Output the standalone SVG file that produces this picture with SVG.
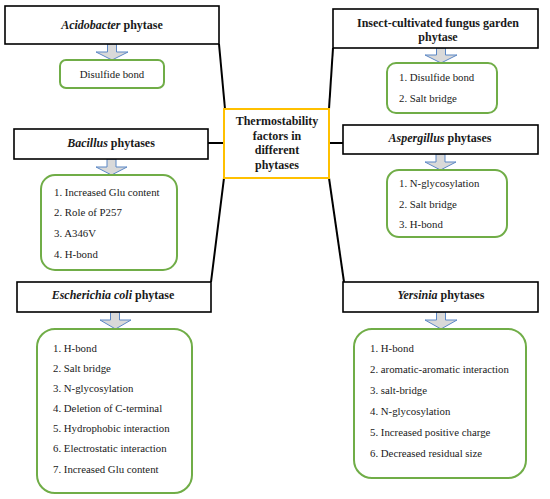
<svg xmlns="http://www.w3.org/2000/svg" width="550" height="499" viewBox="0 0 550 499">
<defs>
<style>
.hdr{fill:#fff;stroke:#000;stroke-width:1.6}
.grn{fill:#fff;stroke:#70ad47;stroke-width:2}
.ctr{fill:#fff;stroke:#ffc000;stroke-width:2}
.arr{fill:#d9d9d9;stroke:#5b87c5;stroke-width:1}
.con{stroke:#000;stroke-width:2;fill:none}
text{font-family:"Liberation Serif","Times New Roman",serif;fill:#1a1a1a}
.t{font-size:12px;font-weight:bold;text-anchor:middle}
.i{font-size:10.8px}
</style>
</defs>
<rect width="550" height="499" fill="#fff"/>
<g id="connectors">
<line class="con" x1="219" y1="44" x2="225" y2="109"/>
<line class="con" x1="333" y1="48" x2="329" y2="109"/>
<line class="con" x1="208" y1="143" x2="224" y2="143"/>
<line class="con" x1="329" y1="143" x2="343" y2="143"/>
<line class="con" x1="224" y1="178" x2="211" y2="282"/>
<line class="con" x1="329" y1="178" x2="344" y2="282"/>
<path class="arr" d="M107.5,44 H116.5 V52 H128 L112,60 L96,52 H107.5 Z"/>
<path class="arr" d="M436.5,48 H445.5 V55 H457 L441,63 L425,55 H436.5 Z"/>
<path class="arr" d="M107,159 H116 V167 H127 L111.5,175 L96,167 H107 Z"/>
<path class="arr" d="M436,154 H445 V162 H456 L440.5,170 L425,162 H436 Z"/>
<path class="arr" d="M110.5,312 H119.5 V320 H131 L115.5,329 L100,320 H110.5 Z"/>
<path class="arr" d="M436.5,312 H445.5 V320 H457 L441,329 L425,320 H436.5 Z"/>
</g>
<g id="center">
<rect class="ctr" x="224" y="109" width="105" height="69"/>
<text class="t" x="277" y="125">Thermostability</text>
<text class="t" x="277" y="139.5">factors in</text>
<text class="t" x="277" y="154">different</text>
<text class="t" x="277" y="168.5">phytases</text>
</g>
<g id="acidobacter">
<rect class="hdr" x="5" y="6" width="214" height="38"/>
<text class="t" x="112" y="29"><tspan font-style="italic">Acidobacter</tspan> phytase</text>
</g>
<g id="acidobacter-factors">
<rect class="grn" x="60" y="60" width="104" height="28" rx="6"/>
<text class="i" x="112" y="78" text-anchor="middle">Disulfide bond</text>
</g>
<g id="insect">
<rect class="hdr" x="333" y="9" width="205" height="39"/>
<text class="t" x="438" y="27">Insect-cultivated fungus garden</text>
<text class="t" x="438" y="41">phytase</text>
</g>
<g id="insect-factors">
<rect class="grn" x="387" y="63" width="110" height="50" rx="9"/>
<text class="i" x="399" y="81">1. Disulfide bond</text>
<text class="i" x="399" y="102">2. Salt bridge</text>
</g>
<g id="bacillus">
<rect class="hdr" x="14" y="129" width="194" height="30"/>
<text class="t" x="111" y="147"><tspan font-style="italic">Bacillus</tspan> phytases</text>
</g>
<g id="bacillus-factors">
<rect class="grn" x="41" y="175" width="136" height="95" rx="14"/>
<text class="i" x="54" y="196">1. Increased Glu content</text>
<text class="i" x="54" y="216">2. Role of P257</text>
<text class="i" x="54" y="237">3. A346V</text>
<text class="i" x="54" y="258">4. H-bond</text>
</g>
<g id="aspergillus">
<rect class="hdr" x="343" y="125" width="195" height="29"/>
<text class="t" x="440" y="142"><tspan font-style="italic">Aspergillus</tspan> phytases</text>
</g>
<g id="aspergillus-factors">
<rect class="grn" x="387" y="170" width="120" height="67" rx="12"/>
<text class="i" x="399" y="187">1. N-glycosylation</text>
<text class="i" x="399" y="208">2. Salt bridge</text>
<text class="i" x="399" y="228">3. H-bond</text>
</g>
<g id="ecoli">
<rect class="hdr" x="17" y="282" width="194" height="30"/>
<text class="t" x="113" y="299"><tspan font-style="italic">Escherichia coli</tspan> phytase</text>
</g>
<g id="ecoli-factors">
<rect class="grn" x="37" y="329" width="155" height="164" rx="18"/>
<text class="i" x="53" y="352">1. H-bond</text>
<text class="i" x="53" y="372">2. Salt bridge</text>
<text class="i" x="53" y="392">3. N-glycosylation</text>
<text class="i" x="53" y="412">4. Deletion of C-terminal</text>
<text class="i" x="53" y="432">5. Hydrophobic interaction</text>
<text class="i" x="53" y="452">6. Electrostatic interaction</text>
<text class="i" x="53" y="473">7. Increased Glu content</text>
</g>
<g id="yersinia">
<rect class="hdr" x="343" y="282" width="195" height="30"/>
<text class="t" x="441" y="299"><tspan font-style="italic">Yersinia</tspan> phytases</text>
</g>
<g id="yersinia-factors">
<rect class="grn" x="354" y="329" width="172" height="149" rx="18"/>
<text class="i" x="370" y="352">1. H-bond</text>
<text class="i" x="370" y="373">2. aromatic-aromatic interaction</text>
<text class="i" x="370" y="394">3. salt-bridge</text>
<text class="i" x="370" y="415">4. N-glycosylation</text>
<text class="i" x="370" y="436">5. Increased positive charge</text>
<text class="i" x="370" y="457">6. Decreased residual size</text>
</g>
</svg>
